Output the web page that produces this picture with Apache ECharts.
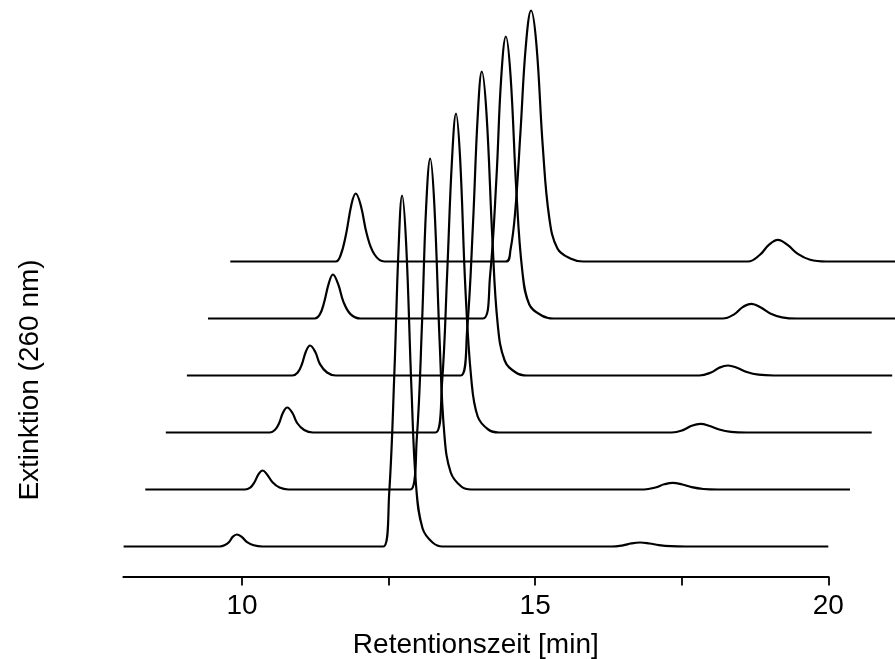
<!DOCTYPE html>
<html>
<head>
<meta charset="utf-8">
<script src="https://cdn.jsdelivr.net/npm/echarts@6/dist/echarts.min.js"></script>
<style>
  html, body { margin: 0; padding: 0; background: #fff; }
  #chart { width: 895px; height: 659px; }
</style>
</head>
<body>
<div id="chart"></div>
<script>
// Retentionszeit [min] und Extinktion (willkürliche Einheiten), von unten nach oben
var trace1 = [[7.98,0],[9.62,0],[9.70,0.012],[9.78,0.045],[9.84,0.096],[9.91,0.12],[10.00,0.094],[10.08,0.046],[10.20,0.012],[10.35,0],
  [12.41,0],[12.51,0.53],[12.60,1.76],[12.67,2.98],[12.73,3.51],[12.80,3.02],[12.89,1.58],[12.97,0.60],[13.08,0.18],[13.25,0.04],[13.42,0],
  [16.30,0],[16.50,0.012],[16.64,0.031],[16.79,0.04],[16.95,0.03],[17.11,0.014],[17.31,0.003],[17.57,0],[20.0,0]]
var trace2 = [[8.35,0],[10.05,0],[10.14,0.019],[10.21,0.07],[10.28,0.152],[10.35,0.19],[10.43,0.148],[10.52,0.072],[10.64,0.019],[10.79,0],
  [12.87,0],[12.98,0.50],[13.07,1.66],[13.14,2.82],[13.21,3.31],[13.28,2.85],[13.37,1.49],[13.45,0.56],[13.56,0.17],[13.74,0.03],[13.91,0],
  [16.86,0],[17.05,0.02],[17.20,0.052],[17.35,0.067],[17.51,0.05],[17.67,0.023],[17.87,0.005],[18.12,0],[20.37,0]]
var trace3 = [[8.70,0],[10.47,0],[10.56,0.025],[10.63,0.09],[10.70,0.20],[10.77,0.25],[10.86,0.195],[10.94,0.095],[11.06,0.025],[11.21,0],
  [13.30,0],[13.41,0.48],[13.50,1.60],[13.58,2.71],[13.65,3.19],[13.72,2.74],[13.81,1.44],[13.91,0.54],[14.02,0.16],[14.20,0.03],[14.38,0],
  [17.33,0],[17.53,0.026],[17.67,0.068],[17.82,0.087],[17.98,0.065],[18.14,0.03],[18.34,0.007],[18.60,0],[20.74,0]]
var trace4 = [[9.06,0],[10.86,0],[10.95,0.03],[11.02,0.11],[11.09,0.24],[11.16,0.30],[11.25,0.234],[11.33,0.114],[11.45,0.03],[11.60,0],
  [13.73,0],[13.84,0.46],[13.94,1.52],[14.02,2.59],[14.09,3.04],[14.17,2.62],[14.27,1.37],[14.36,0.52],[14.48,0.15],[14.67,0.03],[14.86,0],
  [17.80,0],[18.00,0.03],[18.14,0.078],[18.29,0.10],[18.45,0.075],[18.61,0.035],[18.81,0.008],[19.07,0],[21.09,0]]
var trace5 = [[9.42,0],[11.24,0],[11.33,0.044],[11.40,0.16],[11.48,0.352],[11.55,0.44],[11.64,0.343],[11.73,0.167],[11.85,0.044],[12.02,0],
  [14.11,0],[14.23,0.42],[14.34,1.41],[14.42,2.40],[14.50,2.82],[14.58,2.43],[14.68,1.27],[14.78,0.48],[14.90,0.14],[15.11,0.03],[15.31,0],
  [18.20,0],[18.40,0.044],[18.54,0.114],[18.69,0.146],[18.85,0.11],[19.01,0.051],[19.21,0.012],[19.47,0],[21.5,0]]
var trace6 = [[9.80,0],[11.60,0],[11.68,0.06],[11.77,0.26],[11.87,0.58],[11.94,0.68],[12.03,0.55],[12.13,0.27],[12.26,0.07],[12.43,0],
  [14.50,0],[14.58,0.12],[14.66,0.50],[14.75,1.30],[14.84,2.15],[14.93,2.51],[15.02,2.18],[15.13,1.15],[15.24,0.44],[15.38,0.13],[15.60,0.03],[15.82,0],
  [18.63,0],[18.83,0.065],[18.99,0.169],[19.14,0.217],[19.31,0.163],[19.48,0.076],[19.69,0.017],[19.96,0],[21.9,0]]

// vertikaler Versatz der Kurven
var offsets = [0.30, 0.87, 1.44, 2.01, 2.58, 3.15]
var tickValues = [10, 12.5, 15, 17.5, 20]
var labelValues = [10, 15, 20]

var traces = [trace1, trace2, trace3, trace4, trace5, trace6]
var font = '"Liberation Sans", Arial, sans-serif'
var pxPerMin = 705 / (20 - 7.975)

var chart = echarts.init(document.getElementById('chart'))
var option = {
  animation: false,
  backgroundColor: '#fff',
  grid: [
    { left: 123.3, top: 0, width: 705, height: 576.5, outerBoundsMode: 'none', containLabel: false },
    // gleiche Skala, aber breiter, damit die Kurven über 20 min hinausreichen
    { left: 123.3, top: 0, width: pxPerMin * (21.9 - 7.975), height: 576.5, outerBoundsMode: 'none', containLabel: false }
  ],
  xAxis: [
    {
      type: 'value',
      gridIndex: 0,
      min: 7.975,
      max: 20,
      name: 'Retentionszeit [min]',
      nameLocation: 'middle',
      nameGap: 55,
      nameTextStyle: { color: '#000', fontSize: 28, fontFamily: font },
      axisLine: { lineStyle: { color: '#000', width: 1.8 } },
      axisTick: {
        customValues: tickValues,
        length: 9,
        lineStyle: { color: '#000', width: 1.8 }
      },
      axisLabel: {
        customValues: labelValues,
        margin: 16,
        color: '#000',
        fontSize: 28,
        fontFamily: font
      },
      splitLine: { show: false }
    },
    { type: 'value', gridIndex: 1, min: 7.975, max: 21.9, show: false }
  ],
  yAxis: [
    { type: 'value', gridIndex: 0, min: 0, max: 5.765, show: false },
    { type: 'value', gridIndex: 1, min: 0, max: 5.765, show: false }
  ],
  graphic: [{
    type: 'text',
    x: 30,
    y: 380,
    rotation: Math.PI / 2,
    style: {
      text: 'Extinktion (260 nm)',
      fill: '#000',
      font: '28px ' + font,
      textAlign: 'center',
      textVerticalAlign: 'middle'
    }
  }],
  series: traces.map(function (tr, i) {
    return {
      type: 'line',
      xAxisIndex: 1,
      yAxisIndex: 1,
      showSymbol: false,
      smooth: 0.4,
      lineStyle: { color: '#000', width: 2.2 },
      data: tr.map(function (p) { return [p[0], p[1] + offsets[i]] })
    }
  })
}
chart.setOption(option)
</script>
</body>
</html>
